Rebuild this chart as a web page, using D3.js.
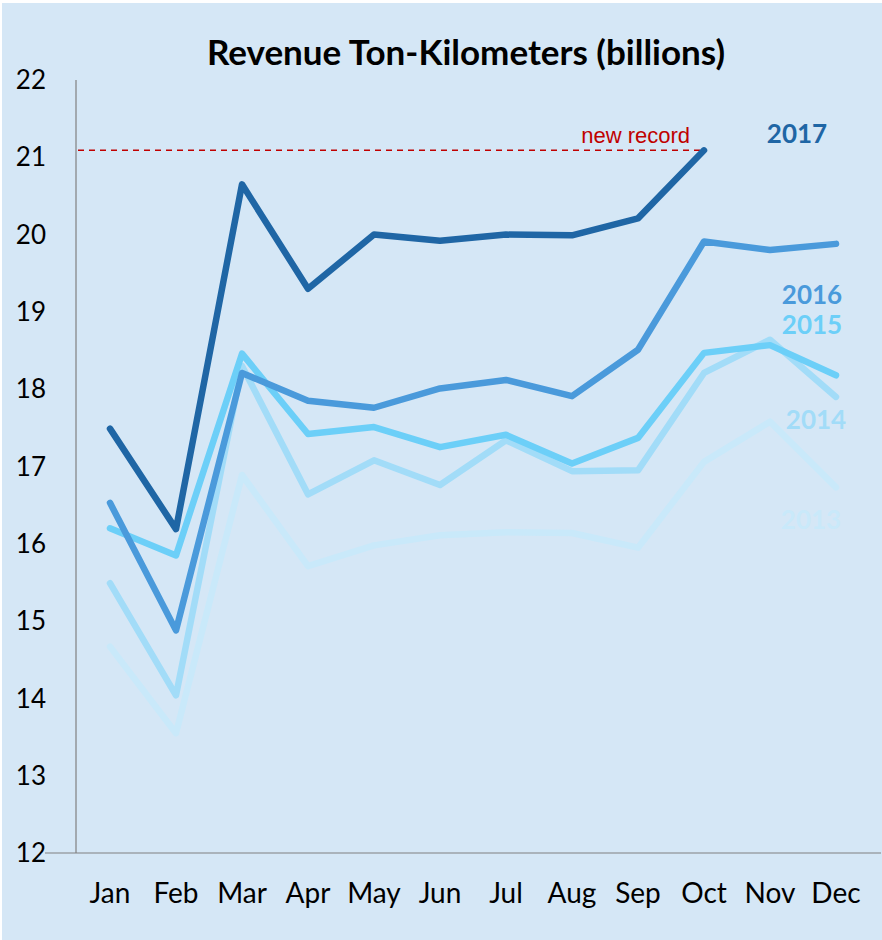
<!DOCTYPE html>
<html>
<head>
<meta charset="utf-8">
<script src="https://cdnjs.cloudflare.com/ajax/libs/d3/7.8.5/d3.min.js"></script>
<style>
  body { margin: 0; background: #fff; }
  svg { display: block; }
</style>
</head>
<body>
<svg width="882" height="940"></svg>
<script>
var months = ['Jan','Feb','Mar','Apr','May','Jun','Jul','Aug','Sep','Oct','Nov','Dec'];
var yTicks = [12,13,14,15,16,17,18,19,20,21,22];

var v2013 = [14.67, 13.55, 16.89, 15.71, 15.98, 16.11, 16.15, 16.14, 15.95, 17.06, 17.58, 16.73];
var v2014 = [15.49, 14.04, 18.30, 16.64, 17.08, 16.76, 17.34, 16.94, 16.95, 18.21, 18.64, 17.90];
var v2015 = [16.20, 15.85, 18.46, 17.42, 17.51, 17.25, 17.41, 17.04, 17.37, 18.47, 18.57, 18.18];
var v2016 = [16.53, 14.88, 18.21, 17.85, 17.76, 18.01, 18.12, 17.91, 18.51, 19.91, 19.80, 19.88];
var v2017 = [17.49, 16.19, 20.65, 19.30, 20.00, 19.92, 20.00, 19.99, 20.21, 21.09];

var recordValue = 21.09;

var series = [
  {name: '2013', values: v2013, color: '#c9e9fa', labelY: 520},
  {name: '2014', values: v2014, color: '#a2dcf8', labelY: 420},
  {name: '2015', values: v2015, color: '#6ccff8', labelY: 325},
  {name: '2016', values: v2016, color: '#4a9adb', labelY: 295},
  {name: '2017', values: v2017, color: '#1f66a5', labelY: 134}
];
var labelX = {'2013': 811, '2014': 816, '2015': 812, '2016': 812, '2017': 797};

var svg = d3.select('svg');

svg.append('rect')
    .attr('x', 2).attr('y', 3)
    .attr('width', 880).attr('height', 937)
    .attr('fill', '#d5e7f6');

var scaleX = d3.scalePoint().domain(months).range([110, 836]);
var scaleY = d3.scaleLinear().domain([12, 22]).range([853, 80]);

// axes
svg.append('line')
    .attr('x1', 76).attr('x2', 76)
    .attr('y1', 80).attr('y2', 853)
    .attr('stroke', '#808080').attr('stroke-width', 1.2);
svg.append('line')
    .attr('x1', 45).attr('x2', 881)
    .attr('y1', 853).attr('y2', 853)
    .attr('stroke', '#808080').attr('stroke-width', 1.2);

svg.selectAll('.ytick')
    .data(yTicks)
    .enter()
    .append('text')
    .attr('class', 'ytick')
    .attr('x', 46)
    .attr('y', function (d) { return scaleY(d); })
    .attr('dy', '0.35em')
    .attr('text-anchor', 'end')
    .attr('font-family', 'Lato, "Open Sans", sans-serif')
    .attr('font-size', 26)
    .attr('fill', '#000')
    .text(function (d) { return d; });

svg.selectAll('.xtick')
    .data(months)
    .enter()
    .append('text')
    .attr('class', 'xtick')
    .attr('x', function (d) { return scaleX(d); })
    .attr('y', 903)
    .attr('text-anchor', 'middle')
    .attr('font-family', 'Lato, "Open Sans", sans-serif')
    .attr('font-size', 28)
    .attr('fill', '#000')
    .text(function (d) { return d; });

// title
svg.append('text')
    .attr('x', 466)
    .attr('y', 65)
    .attr('text-anchor', 'middle')
    .attr('font-family', 'Lato, "Open Sans", sans-serif')
    .attr('font-weight', 'bold')
    .attr('font-size', 35)
    .attr('fill', '#000')
    .text('Revenue Ton-Kilometers (billions)');

// record line
svg.append('line')
    .attr('x1', 78).attr('x2', scaleX('Oct'))
    .attr('y1', scaleY(recordValue)).attr('y2', scaleY(recordValue))
    .attr('stroke', '#c00000')
    .attr('stroke-width', 1.5)
    .attr('stroke-dasharray', '6,5');

svg.append('text')
    .attr('x', 690)
    .attr('y', 143)
    .attr('text-anchor', 'end')
    .attr('font-family', '"Liberation Sans", Arial, sans-serif')
    .attr('font-size', 22)
    .attr('fill', '#c00000')
    .text('new record');

var line = d3.line()
    .x(function (d, i) { return scaleX(months[i]); })
    .y(function (d) { return scaleY(d); });

svg.selectAll('.series')
    .data(series)
    .enter()
    .append('path')
    .attr('class', 'series')
    .attr('d', function (d) { return line(d.values); })
    .attr('fill', 'none')
    .attr('stroke', function (d) { return d.color; })
    .attr('stroke-width', 6.5)
    .attr('stroke-linejoin', 'round')
    .attr('stroke-linecap', 'round');

svg.selectAll('.slabel')
    .data(series)
    .enter()
    .append('text')
    .attr('class', 'slabel')
    .attr('x', function (d) { return labelX[d.name]; })
    .attr('y', function (d) { return d.labelY; })
    .attr('dy', '0.35em')
    .attr('text-anchor', 'middle')
    .attr('font-family', 'Lato, "Open Sans", sans-serif')
    .attr('font-weight', 'bold')
    .attr('font-size', 26)
    .attr('fill', function (d) { return d.color; })
    .text(function (d) { return d.name; });
</script>
</body>
</html>
